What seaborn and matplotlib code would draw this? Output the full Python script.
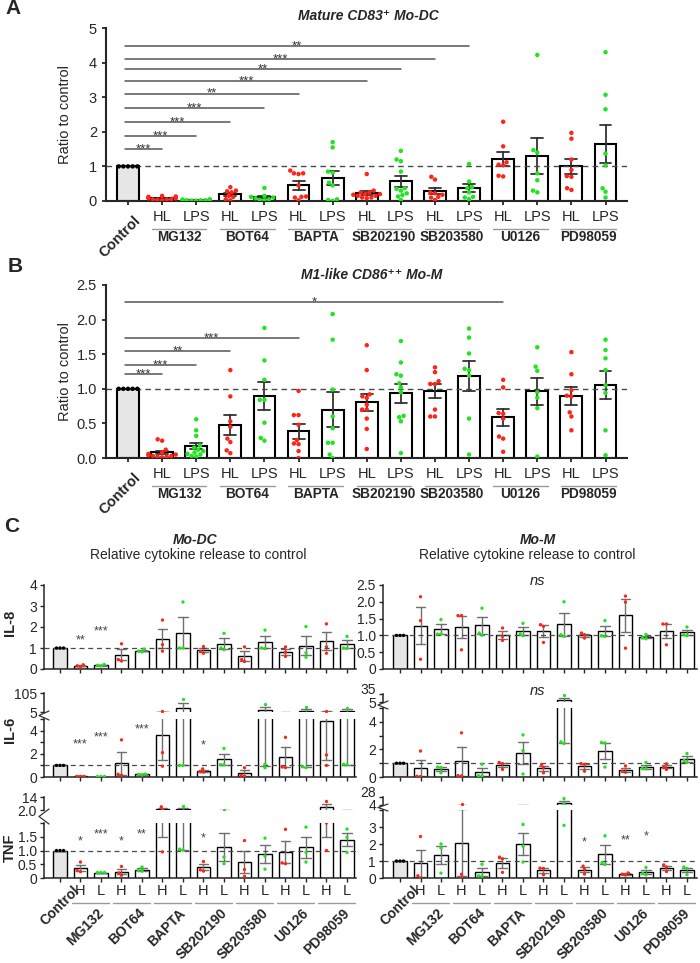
import warnings
import pandas as pd
import seaborn as sns
import matplotlib.pyplot as plt
from matplotlib.lines import Line2D
from matplotlib.transforms import blended_transform_factory, offset_copy

warnings.filterwarnings('ignore')

inhibitors = ['MG132', 'BOT64', 'BAPTA', 'SB202190', 'SB203580', 'U0126', 'PD98059']

# ---- A: mature CD83+ Mo-DC, ratio to control (one list per inhibitor)
a_control = [1, 1, 1, 1, 1]
a_hl = [
    [0.02, 0.05, 0.08, 0.10, 0.12, 0.15, 0.10, 0.06, 0.03, 0.08, 0.13, 0.04],
    [0.40, 0.28, 0.30, 0.25, 0.12, 0.15, 0.02, 0.05],
    [0.80, 0.88, 0.80, 0.78, 0.45, 0.13, 0.12, 0.02, 0.10],
    [0.78, 0.30, 0.25, 0.20, 0.15, 0.10, 0.15, 0.20, 0.08, 0.25, 0.18, 0.10],
    [0.70, 0.62, 0.25, 0.22, 0.18, 0.10, 0.03, 0.12],
    [2.29, 1.58, 1.12, 1.05, 1.03, 0.73, 0.71],
    [1.97, 1.80, 1.20, 0.90, 0.72, 0.70, 0.37, 0.32],
]
a_lps = [
    [0.01, 0.02, 0.03, 0.04, 0.05, 0.03, 0.02, 0.01, 0.04, 0.02, 0.03],
    [0.38, 0.15, 0.10, 0.05, 0.02, 0.08, 0.03, 0.12],
    [1.70, 1.55, 0.85, 0.82, 0.53, 0.45, 0.05, 0.03, 0.00],
    [1.45, 1.20, 1.15, 0.85, 0.37, 0.30, 0.22, 0.13, 0.03, 0.17, 0.35],
    [1.07, 0.56, 0.40, 0.37, 0.25, 0.12, 0.05, 0.10],
    [4.22, 1.47, 1.40, 0.80, 0.60, 0.30, 0.25],
    [4.30, 3.07, 2.65, 1.37, 1.03, 0.37, 0.27, 0.10],
]
a_sig_to = ['MG132 HL', 'MG132 LPS', 'BOT64 HL', 'BOT64 LPS', 'BAPTA HL',
            'SB202190 HL', 'SB202190 LPS', 'SB203580 HL', 'SB203580 LPS']
a_sig_y = [1.49, 1.87, 2.29, 2.69, 3.10, 3.47, 3.82, 4.10, 4.48]
a_sig_txt = ['***', '***', '***', '***', '**', '***', '**', '***', '**']

# ---- B: M1-like CD86++ Mo-M, ratio to control
b_control = [1, 1, 1, 1, 1]
b_hl = [
    [0.27, 0.25, 0.12, 0.08, 0.05, 0.03, 0.02, 0.04, 0.06, 0.03, 0.01, 0.02],
    [1.27, 0.89, 0.53, 0.45, 0.28, 0.23, 0.11, 0.07],
    [0.97, 0.62, 0.62, 0.48, 0.26, 0.21, 0.20, 0.10, 0.00],
    [1.63, 1.27, 0.92, 0.89, 0.87, 0.77, 0.70, 0.70, 0.57, 0.42, 0.13],
    [1.31, 1.24, 1.11, 1.07, 1.07, 0.70, 0.60, 0.60],
    [1.13, 1.02, 0.65, 0.64, 0.57, 0.31, 0.28, 0.09],
    [1.53, 1.21, 0.98, 0.90, 0.89, 0.66, 0.60, 0.40],
]
b_lps = [
    [0.56, 0.40, 0.32, 0.15, 0.12, 0.08, 0.05, 0.03, 0.10, 0.02, 0.18, 0.06],
    [1.88, 1.41, 1.13, 0.84, 0.84, 0.51, 0.29, 0.25],
    [2.08, 1.71, 0.99, 0.60, 0.43, 0.22, 0.22, 0.05, 0.00],
    [1.69, 1.38, 1.19, 1.21, 1.08, 1.02, 0.95, 0.61, 0.59, 0.53, 0.07],
    [1.87, 1.74, 1.51, 1.29, 1.27, 1.19, 0.57, 0.05],
    [1.60, 1.32, 1.26, 0.95, 0.87, 0.72, 0.02],
    [1.71, 1.56, 1.44, 1.27, 1.05, 0.94, 0.40, 0.04],
]
b_sig_to = ['MG132 HL', 'MG132 LPS', 'BOT64 HL', 'BAPTA HL', 'U0126 HL']
b_sig_y = [1.21, 1.34, 1.54, 1.73, 2.25]
b_sig_txt = ['***', '***', '**', '***', '*']

# ---- C: relative cytokine release (H = HL, L = LPS), three donors each
c_control = [1, 1, 1]
dc_il8_h = [[0.10, 0.20, 0.15], [1.20, 0.45, 0.38], [2.33, 1.16, 0.85], [1.07, 0.84, 0.75],
            [1.05, 0.45, 0.36], [1.05, 0.80, 0.60], [2.15, 1.05, 0.75]]
dc_il8_l = [[0.15, 0.22, 0.18], [0.95, 0.85, 0.82], [3.19, 1.00, 1.00], [1.70, 1.00, 0.92],
            [1.85, 1.00, 0.97], [2.02, 0.77, 0.56], [1.55, 1.00, 0.98]]
dc_il6_h = [[0.05, 0.05, 0.05], [3.20, 0.23, 0.15], [7.80, 2.10, 0.93], [0.70, 0.45, 0.42],
            [0.80, 0.15, 0.06], [3.42, 0.81, 0.87], [11.5, 1.90, 1.00]]
dc_il6_l = [[0.04, 0.04, 0.04], [0.25, 0.22, 0.18], [75.0, 1.00, 1.00], [2.46, 1.07, 1.07],
            [45.0, 1.10, 0.80], [30.0, 0.90, 0.80], [28.0, 1.10, 1.05]]
dc_tnf_h = [[0.58, 0.27, 0.23], [0.42, 0.18, 0.10], [5.00, 2.10, 0.95], [0.60, 0.30, 0.25],
            [1.36, 0.31, 0.06], [1.77, 0.55, 0.52], [10.3, 2.00, 1.00]]
dc_tnf_l = [[0.20, 0.20, 0.20], [0.40, 0.27, 0.25], [5.80, 1.05, 1.02], [2.10, 0.76, 0.52],
            [1.45, 0.80, 0.32], [1.85, 0.93, 0.58], [1.78, 1.48, 0.93]]
m_il8_h = [[2.15, 1.44, 0.29], [1.59, 1.59, 0.57], [1.22, 0.97, 0.85], [1.32, 1.27, 0.79],
           [1.07, 1.02, 0.92], [2.17, 1.99, 0.62], [1.34, 1.34, 0.72]]
m_il8_l = [[1.47, 1.04, 1.04], [1.81, 1.01, 1.07], [1.36, 0.99, 1.05], [2.00, 0.97, 1.02],
           [1.44, 0.97, 0.99], [1.03, 0.92, 0.90], [1.25, 1.02, 0.99]]
m_il6_h = [[1.88, 0.05, 0.03], [3.20, 0.10, 0.08], [1.05, 0.97, 0.55], [0.90, 0.70, 0.30],
           [0.97, 0.92, 0.42], [0.80, 0.42, 0.35], [0.95, 0.70, 0.55]]
m_il6_l = [[0.72, 0.68, 0.30], [0.92, 0.10, 0.08], [3.05, 1.92, 0.22], [30.0, 2.55, 2.43],
           [2.50, 2.47, 0.72], [1.05, 0.62, 0.60], [1.70, 1.20, 1.05]]
m_tnf_h = [[2.44, 0.13, 0.00], [6.00, 0.22, 0.00], [1.23, 1.13, 0.33], [0.58, 0.56, 0.19],
           [0.70, 0.52, 0.23], [0.30, 0.22, 0.18], [0.77, 0.65, 0.38]]
m_tnf_l = [[2.00, 1.77, 0.29], [0.81, 0.13, 0.10], [3.15, 1.87, 0.94], [23.0, 7.00, 3.10],
           [2.48, 0.90, 0.80], [0.62, 0.27, 0.19], [0.65, 0.56, 0.19]]

dc_il8_stars = [('MG132 H', '**', 1.55), ('MG132 L', '***', 1.97)]
dc_il6_stars = [('MG132 H', '***', 3.1), ('MG132 L', '***', 3.7), ('BOT64 L', '***', 4.4),
                ('SB202190 H', '*', 3.05)]
dc_tnf_stars = [('MG132 H', '*', 1.45), ('MG132 L', '***', 1.71), ('BOT64 H', '*', 1.45),
                ('BOT64 L', '**', 1.71), ('SB202190 H', '*', 1.59)]
m_tnf_stars = [('SB203580 H', '*', 2.29), ('U0126 H', '**', 2.44), ('U0126 L', '*', 2.67)]

RED = '#ff2417'
GREEN = '#1fe41f'
CTRL_FILL = '#e6e6e6'
W, H = 700, 963

sns.set_style('ticks')
plt.rcParams['font.family'] = ['Liberation Sans', 'DejaVu Sans']

fig = plt.figure(figsize=(W / 100, H / 100), dpi=100)


def rect(l, t, r, b):
    return [l / W, 1 - b / H, (r - l) / W, (b - t) / H]


def below(ax, dx, dy):
    # x in data units, y at the axis bottom shifted by pixels
    base = blended_transform_factory(ax.transData, ax.transAxes)
    return offset_copy(base, fig=fig, x=dx, y=-dy, units='dots')


def frame(ctrl, hi, lo, tags):
    rows = [('Control', v) for v in ctrl]
    for name, h, l in zip(inhibitors, hi, lo):
        rows += [(f'{name} {tags[0]}', v) for v in h]
        rows += [(f'{name} {tags[1]}', v) for v in l]
    return pd.DataFrame(rows, columns=['group', 'value'])


def order_for(tags):
    return ['Control'] + [f'{n} {t}' for n in inhibitors for t in tags]


def draw(ax, df, order, dot, lw, ecol, elw, cap, pts=None):
    bar_pal = {g: CTRL_FILL if g == 'Control' else 'white' for g in order}
    dot_pal = {g: 'black' if g == 'Control' else (RED if g.split()[1].startswith('H') else GREEN)
               for g in order}
    sns.barplot(data=df, x='group', y='value', hue='group', order=order, hue_order=order,
                palette=bar_pal, saturation=1, errorbar='se', capsize=cap, width=0.64,
                edgecolor='black', linewidth=lw, err_kws={'color': ecol, 'linewidth': elw},
                legend=False, ax=ax)
    sns.swarmplot(data=df if pts is None else pts, x='group', y='value', hue='group',
                  order=order, hue_order=order, palette=dot_pal, size=dot, linewidth=0,
                  legend=False, ax=ax, zorder=3)
    ax.set_xlabel('')
    ax.set_ylabel('')


def ratio_panel(t, b, ctrl, hi, lo, ymax, ticks, ticklabels, sig_to, sig_y, sig_txt):
    order = order_for(('HL', 'LPS'))
    df = frame(ctrl, hi, lo, ('HL', 'LPS'))
    ax = fig.add_axes(rect(106, t, 627, b))
    draw(ax, df, order, 3.2, 1.5, '#333333', 1.3, 0.35)
    ax.axhline(1, color='#4a4a4a', lw=1, ls=(0, (4, 3)), zorder=2.5)
    for target, y, s in zip(sig_to, sig_y, sig_txt):
        x1 = order.index(target)
        ax.plot([-0.08, x1], [y, y], color='#555555', lw=1.1, zorder=3)
        ax.annotate(s, ((x1 - 0.08) / 2, y), xytext=(0, -2.3), textcoords='offset points',
                    ha='center', va='baseline', fontsize=9.5, color='#333333')
    ax.set_xlim(-0.645, 14.63)
    ax.set_ylim(0, ymax)
    ax.set_yticks(ticks)
    ax.set_yticklabels(ticklabels)
    ax.set_xticks(range(len(order)))
    ax.set_xticklabels([''] + [g.split()[1] for g in order[1:]])
    ax.tick_params(labelsize=10.5, length=3, width=1.3, pad=3.5)
    ax.set_ylabel('Ratio to control', fontsize=10.5)
    ax.yaxis.set_label_coords(-0.066, 0.5)
    sns.despine(ax=ax)
    for s in ['left', 'bottom']:
        ax.spines[s].set_linewidth(1.5)
    for n in inhibitors:
        i = order.index(f'{n} HL')
        ax.plot([i - 0.3, i + 1.3], [0, 0], transform=below(ax, 0, 28), color='#9a9a9a',
                lw=1, clip_on=False)
        ax.text(i + 0.5, 0, n, transform=below(ax, 0, 36), ha='center', va='center',
                fontweight='bold', fontsize=9.8)
    ax.text(0, 0, 'Control', transform=below(ax, 5, 12), rotation=45, rotation_mode='anchor',
            ha='right', va='top', fontweight='bold', fontsize=10.5)
    return ax


def cyto_panel(l, r, xlim, hi, lo, lower, upper=None, stars=(), bottom=False):
    order = order_for(('H', 'L'))
    df = frame(c_control, hi, lo, ('H', 'L'))
    t, b, ymax, ticks, labels = lower
    labels = list(labels)
    ax = fig.add_axes(rect(l, t, r, b))
    draw(ax, df, order, 2.4, 1.0, '#707070', 1.0, 0.45)
    ax.axhline(1, color='#4a4a4a', lw=0.9, ls=(0, (4, 3)), zorder=2.5)
    ax.set_xlim(xlim)
    ax.set_ylim(0, ymax)
    ax.set_xticks(range(len(order)))
    ax.tick_params(labelsize=10, length=3, width=1.0, pad=2)
    sns.despine(ax=ax)
    for s in ['left', 'bottom']:
        ax.spines[s].set_linewidth(1.1)
    for target, s, y in stars:
        ax.annotate(s, (order.index(target), y), xytext=(0, -4.8), textcoords='offset points',
                    ha='center', va='baseline', fontsize=9, color='#444444')
    if bottom:
        ax.set_xticklabels([''] + [g.split()[1] for g in order[1:]])
        ax.tick_params(axis='x', labelsize=10.5, pad=1)
        for n in inhibitors:
            i = order.index(f'{n} H')
            ax.plot([i - 0.4, i + 1.4], [0, 0], transform=below(ax, 0, 25), color='#9a9a9a',
                    lw=1, clip_on=False)
            ax.text(i + 0.5, 0, n, transform=below(ax, 6, 28), rotation=45,
                    rotation_mode='anchor', ha='right', va='top', fontweight='bold', fontsize=10)
        ax.text(0, 0, 'Control', transform=below(ax, 12, 5), rotation=45, rotation_mode='anchor',
                ha='right', va='top', fontweight='bold', fontsize=10)
    else:
        ax.tick_params(axis='x', labelbottom=False)
    if upper:
        ut, ub, ylo, yhi, toplab = upper
        ax2 = fig.add_axes(rect(l, ut, r, ub))
        # only the donors that reach the upper segment are drawn there
        draw(ax2, df, order, 2.4, 1.0, '#707070', 1.0, 0.45, pts=df[df['value'] > ylo])
        ax2.set_xlim(xlim)
        ax2.set_ylim(ylo, yhi)
        ax2.set_yticks([ylo, yhi])
        # the break value is labelled once, at the foot of the upper segment
        ax2.set_yticklabels([labels[-1], toplab])
        labels[-1] = ''
        if ub - ut < 12:
            ax2.get_yticklabels()[-1].set_verticalalignment('baseline')
        ax2.tick_params(labelsize=10, length=3, width=1.0, pad=2, bottom=False, labelbottom=False)
        for s in ['top', 'right', 'bottom']:
            ax2.spines[s].set_visible(False)
        ax2.spines['left'].set_linewidth(1.1)
        ym = (ub + t) / 2
        fig.add_artist(Line2D([(l + 5) / W, (l - 5) / W, (l + 5) / W],
                              [1 - (ub - 1) / H, 1 - ym / H, 1 - (t + 1) / H],
                              color='#333333', lw=0.9))
    ax.set_yticks(ticks)
    ax.set_yticklabels(labels)
    return ax


# panel A and B
ratio_panel(28, 201, a_control, a_hl, a_lps, 5, [0, 1, 2, 3, 4, 5],
            ['0', '1', '2', '3', '4', '5'], a_sig_to, a_sig_y, a_sig_txt)
ratio_panel(285, 458, b_control, b_hl, b_lps, 2.5, [0, 0.5, 1, 1.5, 2, 2.5],
            ['0.0', '0.5', '1.0', '1.5', '2.0', '2.5'], b_sig_to, b_sig_y, b_sig_txt)

# panel C, Mo-DC column
LX = (-0.78, 14.44)
RX = (-0.83, 14.49)
cyto_panel(44, 356, LX, dc_il8_h, dc_il8_l, (585, 669, 4, [0, 1, 2, 3, 4], ['0', '1', '2', '3', '4']),
           stars=dc_il8_stars)
cyto_panel(44, 356, LX, dc_il6_h, dc_il6_l,
           (719, 777, 5, [0, 1, 2, 3, 4, 5], ['0', '', '2', '', '4', '5']),
           upper=(693, 712, 5, 105, '105'), stars=dc_il6_stars)
cyto_panel(44, 356, LX, dc_tnf_h, dc_tnf_l,
           (823, 878, 2, [0, 0.5, 1, 1.5, 2], ['0', '0.5', '1.0', '1.5', '2.0']),
           upper=(797, 810, 2, 14, '14'), stars=dc_tnf_stars, bottom=True)

# panel C, Mo-M column
cyto_panel(383, 697, RX, m_il8_h, m_il8_l,
           (585, 669, 2.5, [0, 0.5, 1, 1.5, 2, 2.5], ['0', '0.5', '1.0', '1.5', '2.0', '2.5']))
cyto_panel(383, 697, RX, m_il6_h, m_il6_l,
           (708, 777, 5, [0, 1, 2, 3, 4, 5], ['0', '', '2', '', '4', '5']),
           upper=(694, 702, 5, 35, '35'))
cyto_panel(383, 697, RX, m_tnf_h, m_tnf_l,
           (810, 878, 4, [0, 1, 2, 3, 4], ['0', '1', '2', '3', '4']),
           upper=(797, 805, 4, 28, '28'), stars=m_tnf_stars, bottom=True)

# titles and labels
fig.text(13 / W, 1 - 8 / H, 'A', fontsize=15, fontweight='bold', ha='center', va='center')
fig.text(15 / W, 1 - 267 / H, 'B', fontsize=15, fontweight='bold', ha='center', va='center')
fig.text(12 / W, 1 - 527 / H, 'C', fontsize=15, fontweight='bold', ha='center', va='center')
fig.text(368 / W, 1 - 16 / H, 'Mature CD83⁺ Mo-DC', fontsize=10, fontweight='bold',
         style='italic', ha='center', va='center')
fig.text(372 / W, 1 - 275 / H, 'M1-like CD86⁺⁺ Mo-M', fontsize=10, fontweight='bold',
         style='italic', ha='center', va='center')
fig.text(195 / W, 1 - 540 / H, 'Mo-DC', fontsize=10, fontweight='bold', style='italic',
         ha='center', va='center')
fig.text(198 / W, 1 - 555 / H, 'Relative cytokine release to control', fontsize=10,
         ha='center', va='center')
fig.text(538 / W, 1 - 540 / H, 'Mo-M', fontsize=10, fontweight='bold', style='italic',
         ha='center', va='center')
fig.text(527 / W, 1 - 555 / H, 'Relative cytokine release to control', fontsize=10,
         ha='center', va='center')
fig.text(537 / W, 1 - 585 / H, 'ns', fontsize=10.5, style='italic', ha='center', va='baseline')
fig.text(537 / W, 1 - 695 / H, 'ns', fontsize=10.5, style='italic', ha='center', va='baseline')
for lab, y in [('IL-8', 623), ('IL-6', 730), ('TNF', 848)]:
    fig.text(10 / W, 1 - y / H, lab, fontsize=10.5, fontweight='bold', rotation=90,
             ha='center', va='center')

fig.savefig('out.png', dpi=100)
